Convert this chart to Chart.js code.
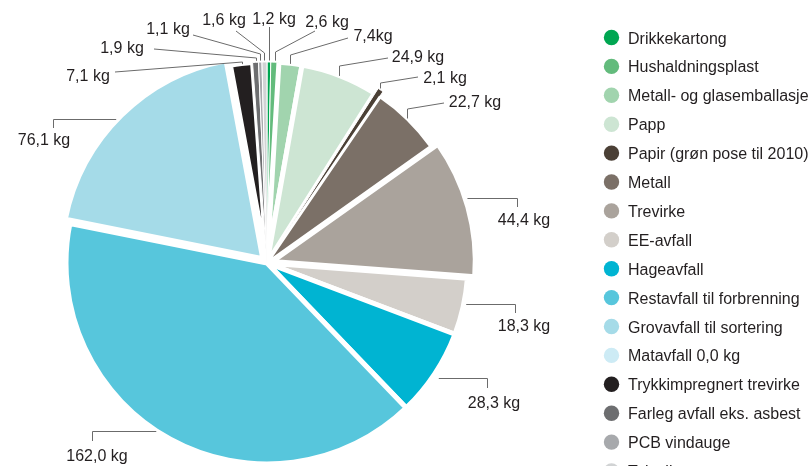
<!DOCTYPE html>
<html>
<head>
<meta charset="utf-8">
<script src="https://cdn.jsdelivr.net/npm/chart.js@4.4.0/dist/chart.umd.min.js"></script>
<style>
  html, body { margin: 0; padding: 0; background: #fff; }
  #wrap { position: relative; width: 812px; height: 466px; overflow: hidden; }
</style>
</head>
<body>
<div id="wrap"><canvas id="wasteChart"></canvas></div>
<script>
// Avfall per innbyggjar (kg), same order as the legend
const categories = [
    'Drikkekartong', 'Hushaldningsplast', 'Metall- og glasemballasje', 'Papp',
    'Papir (grøn pose til 2010)', 'Metall', 'Trevirke', 'EE-avfall', 'Hageavfall',
    'Restavfall til forbrenning', 'Grovavfall til sortering', 'Matavfall 0,0 kg',
    'Trykkimpregnert trevirke', 'Farleg avfall eks. asbest', 'PCB vindauge', 'Tekstilar'
];
const kilos = [1.2, 2.6, 7.4, 24.9, 2.1, 22.7, 44.4, 18.3, 28.3, 162.0, 76.1, 0.0, 7.1, 1.9, 1.1, 1.6];

const colors = [
    '#00a651', '#63bb7c', '#a1d4ae', '#cde5d3', '#4b4036', '#7b7067', '#aaa39c', '#d3cfca',
    '#00b4d2', '#57c6dc', '#a5dbe8', '#cdebf5', '#231f20', '#6d6e70', '#a7a9ac', '#d1d3d4'
];
// white gaps and exploded slices
const sliceBorder = [1, 1, 5, 5, 1, 3, 5, 5, 5, 5, 5, 5, 5, 1, 1, 1];
const sliceOffset = [0, 0, 0, 0, 12, 0, 22, 0, 0, 0, 24, 0, 0, 0, 0, 0];

// value labels as printed in the source ("7,4kg" has no space)
const valueLabels = kilos.map((v, i) => v.toFixed(1).replace('.', ',') + (i === 2 ? 'kg' : ' kg'));

// where each value label and its leader line sit
const labelLayout = [
    { side: 'up', elbowY: 27, tx: 274, ty: 18 },
    { side: 'up', elbowY: 52, endX: 315, endY: 31, tx: 327, ty: 21 },
    { side: 'up', elbowY: 55, endX: 348, endY: 38, tx: 373, ty: 35 },
    { side: 'up', elbowY: 66, endX: 388, endY: 58, tx: 418, ty: 56 },
    { side: 'up', elbowY: 83, endX: 418, endY: 77, tx: 445, ty: 77 },
    { side: 'up', elbowY: 109, endX: 444, endY: 103, tx: 475, ty: 101 },
    { side: 'right', lineY: 198, gap: 5, tickX: 517, tickY: 207, tx: 524, ty: 219 },
    { side: 'right', lineY: 304, gap: 5, tickX: 515, tickY: 313, tx: 524, ty: 325 },
    { side: 'right', lineY: 378, gap: 10, tickX: 487, tickY: 388, tx: 494, ty: 402 },
    { side: 'left', lineY: 431, gap: 5, tickX: 92, tickY: 441, tx: 97, ty: 455 },
    { side: 'left', lineY: 119, gap: 5, tickX: 53, tickY: 128, tx: 44, ty: 139 },
    null,
    { side: 'up', elbowY: 62, endX: 115, endY: 72, tx: 88, ty: 75 },
    { side: 'up', elbowY: 58, endX: 154, endY: 49, tx: 122, ty: 47 },
    { side: 'up', elbowY: 54, endX: 193, endY: 35, tx: 168, ty: 28 },
    { side: 'up', elbowY: 53, endX: 236, endY: 31, tx: 224, ty: 19 }
];

const FONT = "16px 'Liberation Sans', Arial, Helvetica, sans-serif";
const TEXT_COLOR = '#231f20';
const LINE_COLOR = '#6b6b6b';

// visible circle of an arc, after Chart.js offset/explode
function arcGeom(arc) {
    const o = arc.options;
    const mid = (arc.startAngle + arc.endAngle) / 2;
    const shift = (o.offset || 0) / 4;
    const circ = arc.endAngle - arc.startAngle;
    const grow = shift * (1 - Math.sin(Math.min(Math.PI, circ)));
    return {
        cx: arc.x + Math.cos(mid) * shift,
        cy: arc.y + Math.sin(mid) * shift,
        r: arc.outerRadius + grow - o.borderWidth / 2,
        mid: mid
    };
}

const crisp = v => Math.round(v) + 0.5;

const leaderLabels = {
    id: 'leaderLabels',
    afterDatasetsDraw(chart) {
        const ctx = chart.ctx;
        const arcs = chart.getDatasetMeta(0).data;
        ctx.save();
        ctx.font = FONT;
        ctx.textAlign = 'center';
        ctx.textBaseline = 'alphabetic';
        ctx.strokeStyle = LINE_COLOR;
        ctx.lineWidth = 1;

        arcs.forEach((arc, i) => {
            const lay = labelLayout[i];
            if (!lay) return;
            const g = arcGeom(arc);
            ctx.beginPath();
            if (lay.side === 'up') {
                const lx = g.cx + Math.cos(g.mid) * g.r;
                const rimY = g.cy - Math.sqrt(Math.max(0, g.r * g.r - (lx - g.cx) * (lx - g.cx)));
                ctx.moveTo(crisp(lx), rimY - 2);
                ctx.lineTo(crisp(lx), lay.elbowY);
                if (lay.endX !== undefined) ctx.lineTo(lay.endX, lay.endY);
            } else {
                const dir = lay.side === 'right' ? 1 : -1;
                const dy = lay.lineY - g.cy;
                const sx = g.cx + dir * (Math.sqrt(Math.max(0, g.r * g.r - dy * dy)) + lay.gap);
                ctx.moveTo(sx, crisp(lay.lineY));
                ctx.lineTo(crisp(lay.tickX), crisp(lay.lineY));
                ctx.lineTo(crisp(lay.tickX), lay.tickY);
            }
            ctx.stroke();

            ctx.fillStyle = TEXT_COLOR;
            ctx.fillText(valueLabels[i], lay.tx, lay.ty + 6);
        });
        ctx.restore();
    }
};

const sideLegend = {
    id: 'sideLegend',
    afterDraw(chart) {
        const ctx = chart.ctx;
        ctx.save();
        ctx.font = FONT;
        ctx.textAlign = 'left';
        ctx.textBaseline = 'alphabetic';
        categories.forEach((name, i) => {
            const y = 37.5 + i * 28.9;
            ctx.beginPath();
            ctx.arc(611.5, y, 7.7, 0, Math.PI * 2);
            ctx.fillStyle = colors[i];
            ctx.fill();
            ctx.fillStyle = TEXT_COLOR;
            ctx.fillText(name, 628, y + 6);
        });
        ctx.restore();
    }
};

const ctx = document.getElementById('wasteChart').getContext('2d');

new Chart(ctx, {
    type: 'pie',
    data: {
        labels: categories,
        datasets: [{
            data: kilos,
            backgroundColor: colors,
            borderColor: '#ffffff',
            borderWidth: sliceBorder,
            offset: sliceOffset,
            radius: 201
        }]
    },
    options: {
        responsive: true,
        maintainAspectRatio: false,
        animation: false,
        events: [],
        layout: {
            padding: { left: 67, right: 345, top: 63, bottom: 3 }
        },
        plugins: {
            legend: { display: false },
            tooltip: { enabled: false }
        }
    },
    plugins: [leaderLabels, sideLegend]
});
</script>
</body>
</html>
